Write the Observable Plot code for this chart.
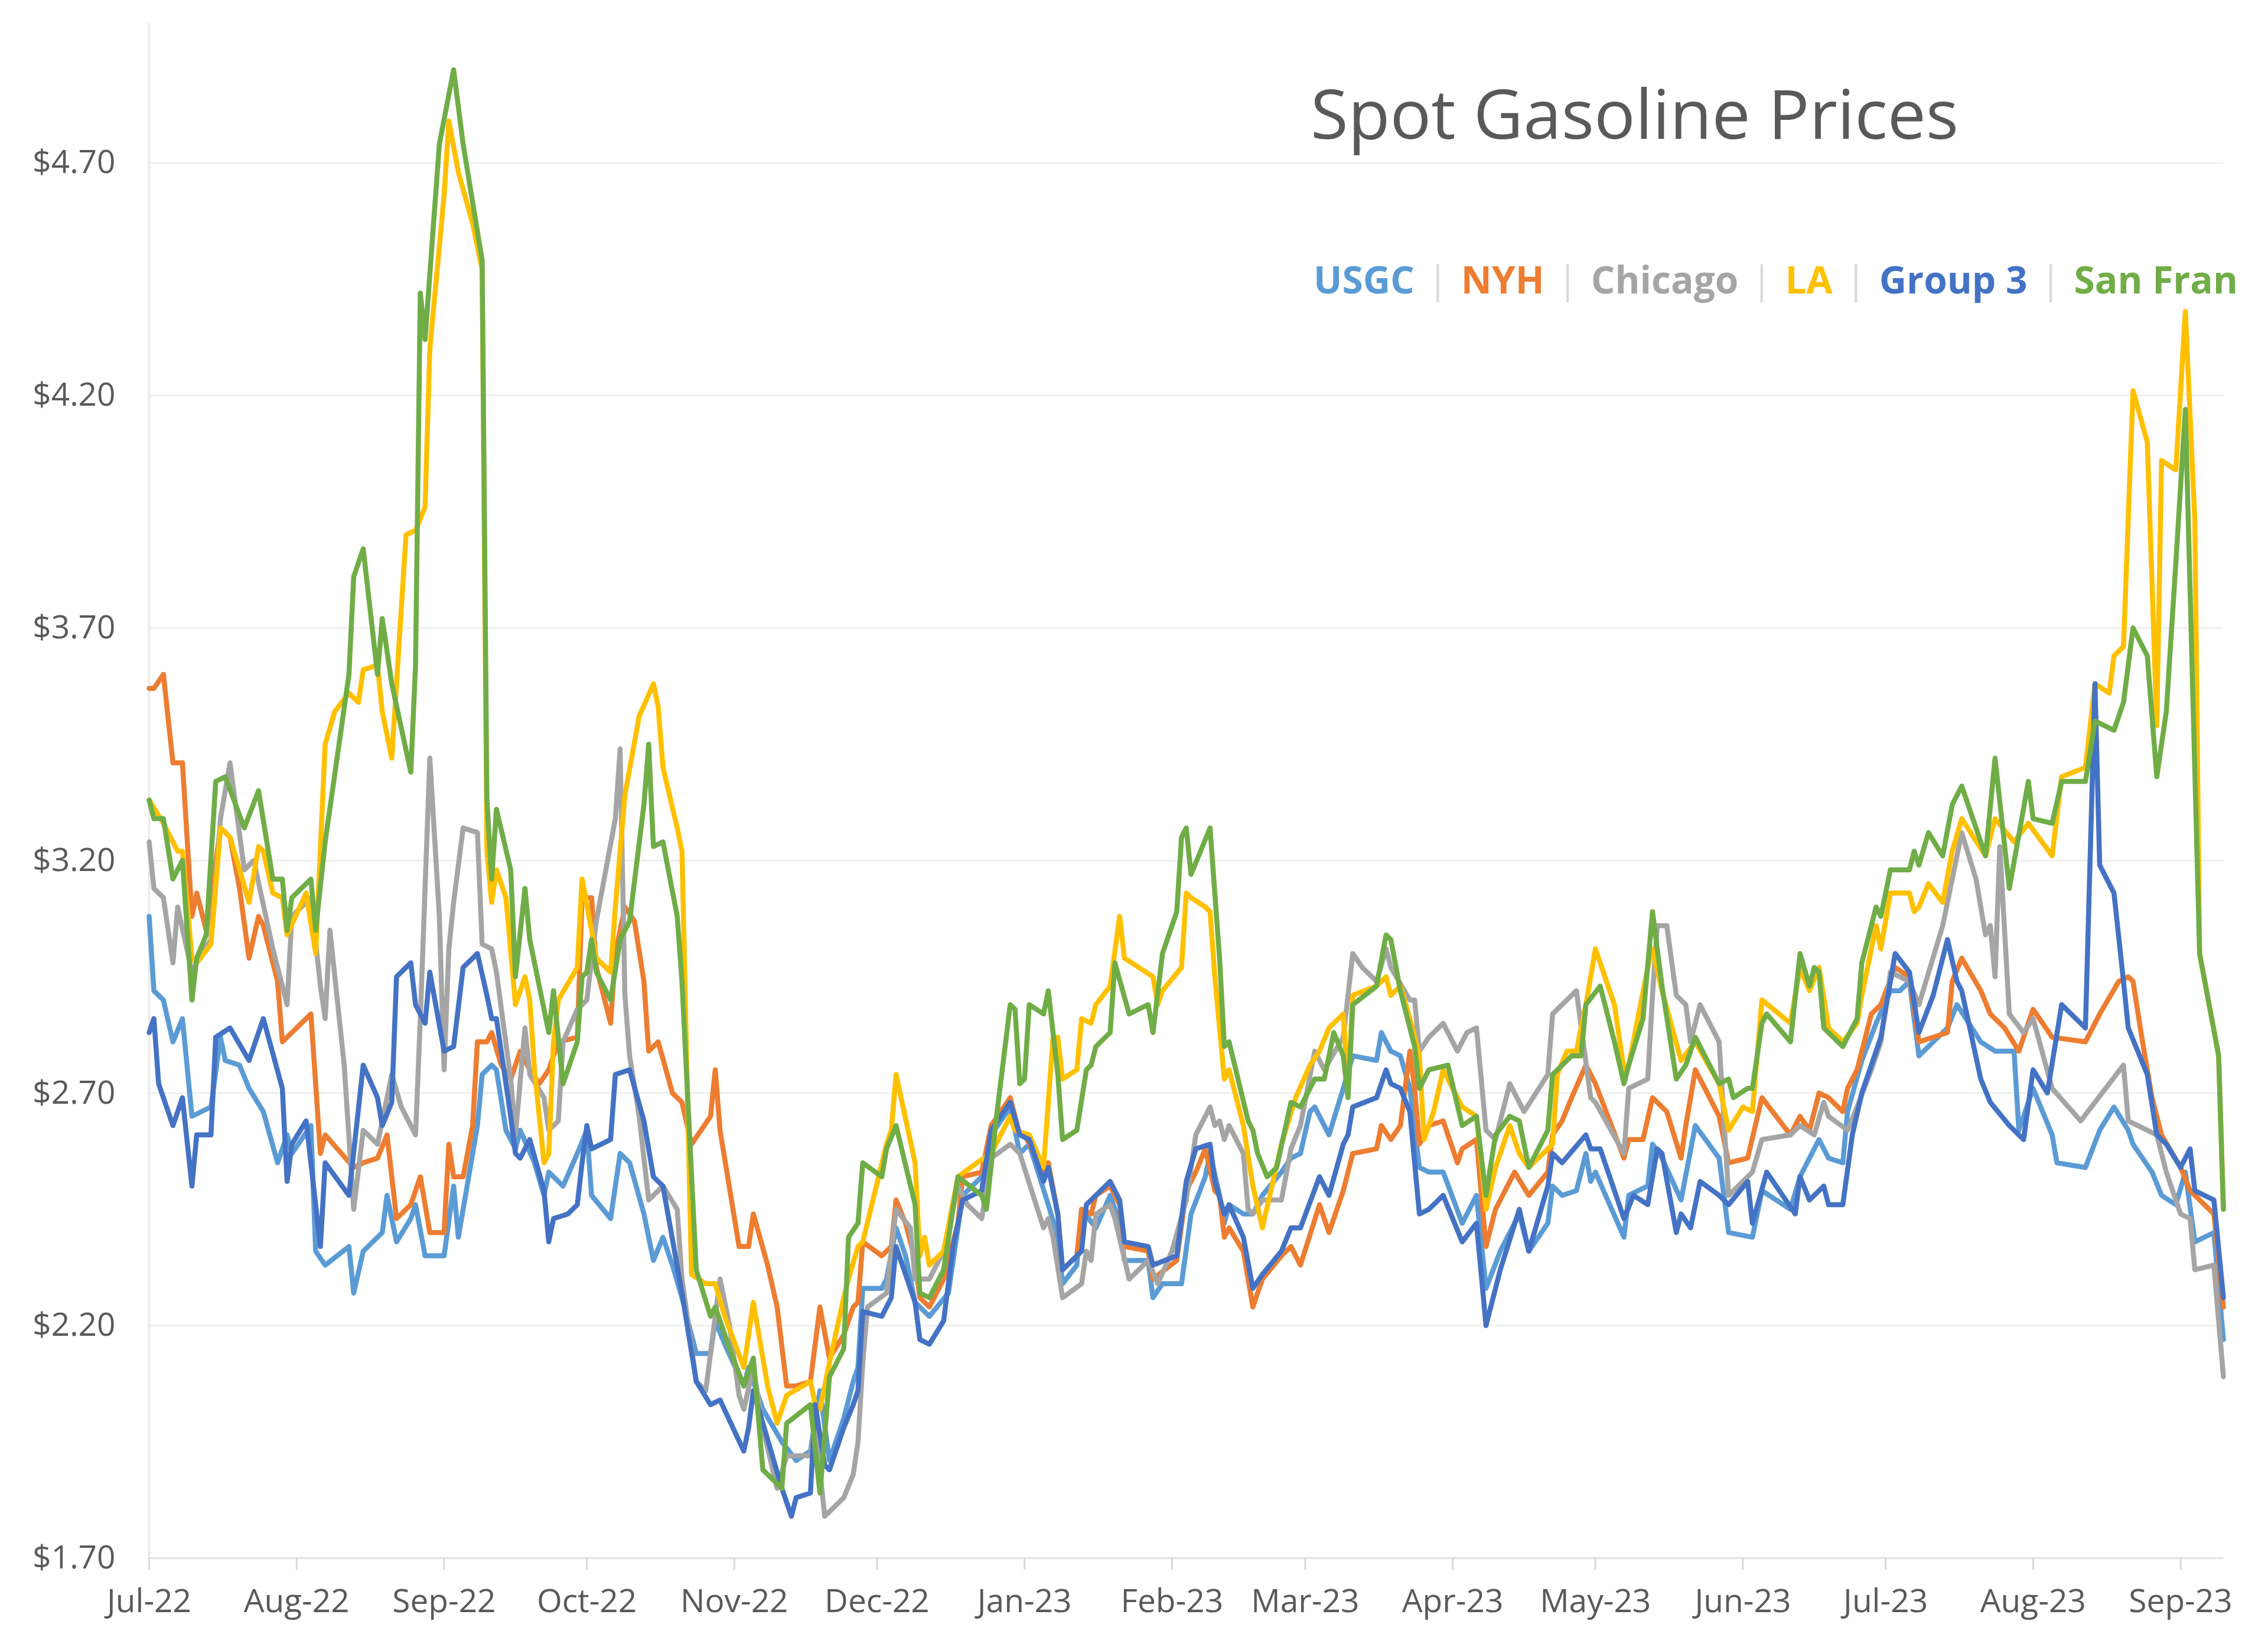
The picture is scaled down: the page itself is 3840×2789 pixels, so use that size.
<!DOCTYPE html>
<html>
<head>
<meta charset="utf-8">
<script src="https://cdn.jsdelivr.net/npm/d3@7"></script>
<script src="https://cdn.jsdelivr.net/npm/@observablehq/plot@0.6"></script>
<style>
html, body { margin: 0; padding: 0; background: #ffffff; }
#wrap { position: relative; width: 3840px; height: 2789px; font-family: "Open Sans", sans-serif; overflow: hidden; }
#title { position: absolute; left: 2219px; top: 111px; font-size: 116px; color: #595959; white-space: nowrap; line-height: normal; }
#legend { position: absolute; left: 2224px; top: 429px; font-size: 64px; font-weight: 700; white-space: nowrap; display: flex; line-height: normal; }
#legend .sep { color: #D9D9D9; font-weight: 400; width: 79px; text-align: center; }
</style>
</head>
<body>
<div id="wrap">
  <div id="chart"></div>
  <div id="title">Spot Gasoline Prices</div>
  <div id="legend"></div>
</div>
<script>
// ---- data: [day offset from 1 Jul 2022, $/gal] ----
const startDate = Date.UTC(2022, 6, 1);
const seriesNames = ["USGC", "NYH", "Chicago", "LA", "Group 3", "San Fran"];
const seriesColors = ["#5B9BD5", "#ED7D31", "#A5A5A5", "#FFC000", "#4472C4", "#70AD47"];
const yTickValues = [1.7, 2.2, 2.7, 3.2, 3.7, 4.2, 4.7];

const usgc = [[0,3.08],[1,2.92],[3,2.90],[5,2.81],[7,2.86],[9,2.65],[13,2.67],[15,2.82],[16,2.77],[19,2.76],[21,2.71],[24,2.66],[27,2.55],[29,2.61],[30,2.57],[34,2.63],[35,2.36],[37,2.33],[42,2.37],[43,2.27],[45,2.36],[49,2.40],[50,2.48],[52,2.38],[55,2.43],[56,2.46],[58,2.35],[62,2.35],[64,2.50],[65,2.39],[69,2.63],[70,2.74],[72,2.76],[73,2.75],[75,2.62],[77,2.58],[78,2.62],[81,2.55],[83,2.48],[84,2.53],[87,2.50],[90,2.57],[92,2.62],[93,2.48],[97,2.43],[99,2.57],[101,2.55],[104,2.44],[106,2.34],[108,2.39],[110,2.33],[112,2.26],[115,2.14],[118,2.14],[119,2.21],[121,2.16],[125,2.07],[126,2.11],[129,2.02],[133,1.95],[136,1.91],[139,1.93],[141,2.06],[143,1.91],[146,2.00],[148,2.08],[149,2.11],[150,2.28],[154,2.28],[155,2.30],[157,2.41],[159,2.35],[161,2.25],[164,2.22],[168,2.27],[171,2.48],[175,2.52],[177,2.61],[181,2.67],[183,2.57],[185,2.59],[189,2.46],[191,2.39],[192,2.29],[195,2.33],[196,2.45],[199,2.41],[202,2.48],[204,2.42],[205,2.34],[210,2.34],[211,2.26],[213,2.29],[217,2.29],[219,2.44],[222,2.52],[223,2.57],[225,2.48],[226,2.42],[227,2.46],[230,2.44],[232,2.44],[234,2.48],[238,2.53],[240,2.56],[242,2.57],[244,2.66],[245,2.67],[248,2.61],[251,2.71],[253,2.78],[258,2.77],[259,2.83],[261,2.79],[263,2.78],[265,2.71],[267,2.54],[269,2.53],[272,2.53],[276,2.42],[279,2.48],[281,2.28],[284,2.36],[288,2.44],[290,2.36],[294,2.42],[295,2.50],[297,2.48],[300,2.49],[302,2.57],[303,2.51],[304,2.53],[310,2.39],[311,2.48],[315,2.50],[316,2.59],[318,2.56],[322,2.47],[325,2.63],[330,2.56],[332,2.40],[337,2.39],[339,2.49],[345,2.45],[347,2.52],[351,2.60],[353,2.56],[356,2.55],[357,2.66],[360,2.77],[363,2.85],[366,2.92],[368,2.92],[370,2.94],[372,2.78],[378,2.84],[380,2.89],[385,2.81],[388,2.79],[392,2.79],[393,2.62],[396,2.71],[400,2.61],[401,2.55],[407,2.54],[410,2.62],[413,2.67],[416,2.62],[417,2.59],[421,2.53],[423,2.48],[426,2.46],[428,2.53],[430,2.38],[434,2.40],[436,2.17]];

const nyh = [[0,3.57],[1,3.57],[3,3.60],[5,3.41],[7,3.41],[9,3.08],[10,3.13],[12,3.05],[15,3.27],[17,3.25],[19,3.14],[21,2.99],[23,3.08],[24,3.06],[27,2.94],[28,2.81],[30,2.83],[34,2.87],[36,2.57],[37,2.61],[43,2.54],[45,2.55],[48,2.56],[50,2.61],[52,2.43],[55,2.46],[57,2.52],[59,2.40],[62,2.40],[63,2.59],[64,2.52],[66,2.52],[68,2.63],[69,2.81],[71,2.81],[72,2.83],[74,2.76],[76,2.73],[78,2.79],[80,2.75],[82,2.72],[84,2.75],[86,2.81],[90,2.82],[91,3.12],[93,3.12],[94,2.97],[97,2.85],[98,3.00],[100,3.10],[102,3.07],[104,2.94],[105,2.79],[107,2.81],[110,2.70],[112,2.68],[114,2.59],[118,2.65],[119,2.75],[120,2.62],[124,2.37],[126,2.37],[127,2.44],[130,2.33],[132,2.24],[134,2.07],[136,2.07],[139,2.08],[141,2.24],[143,2.13],[146,2.18],[148,2.24],[149,2.25],[150,2.38],[154,2.35],[156,2.37],[157,2.47],[159,2.42],[161,2.34],[162,2.26],[164,2.24],[167,2.30],[170,2.42],[171,2.52],[175,2.53],[177,2.63],[181,2.69],[183,2.61],[184,2.61],[188,2.53],[189,2.55],[191,2.44],[192,2.32],[195,2.35],[196,2.45],[198,2.44],[199,2.48],[202,2.50],[204,2.46],[205,2.37],[210,2.36],[211,2.30],[216,2.34],[218,2.49],[220,2.53],[222,2.58],[224,2.49],[225,2.48],[226,2.39],[227,2.41],[230,2.36],[232,2.24],[234,2.30],[238,2.35],[240,2.37],[242,2.33],[246,2.46],[248,2.40],[251,2.49],[253,2.57],[258,2.58],[259,2.63],[261,2.60],[263,2.63],[265,2.79],[266,2.71],[267,2.59],[269,2.63],[272,2.64],[275,2.55],[276,2.58],[279,2.60],[281,2.37],[283,2.45],[287,2.53],[290,2.48],[294,2.53],[295,2.61],[297,2.64],[299,2.69],[302,2.76],[304,2.72],[310,2.56],[311,2.60],[314,2.60],[316,2.69],[319,2.66],[322,2.56],[323,2.63],[325,2.75],[330,2.65],[332,2.55],[336,2.56],[339,2.69],[345,2.61],[347,2.65],[349,2.62],[351,2.70],[353,2.69],[356,2.66],[357,2.71],[359,2.75],[362,2.87],[364,2.89],[367,2.97],[370,2.95],[372,2.81],[378,2.83],[379,2.94],[381,2.99],[385,2.92],[387,2.87],[390,2.84],[393,2.79],[396,2.88],[400,2.82],[407,2.81],[410,2.87],[414,2.94],[416,2.95],[417,2.94],[419,2.81],[421,2.69],[423,2.61],[427,2.54],[429,2.49],[430,2.48],[434,2.44],[436,2.24]];

const chicago = [[0,3.24],[1,3.14],[3,3.12],[5,2.98],[6,3.10],[9,2.96],[10,2.98],[13,3.03],[15,3.29],[17,3.41],[20,3.18],[22,3.20],[26,3.01],[29,2.89],[30,3.08],[34,3.12],[36,2.93],[37,2.86],[38,3.05],[41,2.76],[43,2.45],[45,2.62],[48,2.59],[51,2.74],[53,2.67],[56,2.61],[57,2.86],[59,3.42],[61,3.08],[62,2.75],[63,3.01],[64,3.11],[66,3.27],[69,3.26],[70,3.02],[72,3.01],[73,2.96],[76,2.73],[77,2.61],[79,2.84],[80,2.74],[83,2.69],[84,2.62],[86,2.64],[87,2.81],[90,2.88],[92,2.90],[94,3.07],[98,3.29],[99,3.44],[100,2.91],[101,2.78],[103,2.65],[105,2.47],[108,2.50],[111,2.45],[112,2.30],[115,2.08],[117,2.06],[120,2.30],[122,2.20],[124,2.05],[125,2.02],[127,2.11],[129,1.98],[132,1.85],[134,1.92],[139,1.92],[140,1.99],[142,1.79],[146,1.83],[148,1.88],[149,1.95],[150,2.12],[151,2.24],[155,2.27],[157,2.45],[160,2.41],[161,2.30],[164,2.30],[167,2.36],[170,2.50],[172,2.46],[175,2.43],[177,2.56],[181,2.59],[183,2.57],[188,2.41],[189,2.43],[190,2.39],[192,2.26],[196,2.29],[197,2.36],[198,2.34],[199,2.44],[202,2.46],[203,2.43],[206,2.30],[210,2.34],[212,2.29],[215,2.36],[218,2.47],[220,2.61],[223,2.67],[224,2.63],[225,2.64],[226,2.60],[227,2.63],[230,2.57],[231,2.45],[232,2.44],[234,2.47],[238,2.47],[240,2.58],[242,2.63],[245,2.79],[247,2.75],[251,2.82],[253,3.00],[255,2.97],[258,2.94],[260,3.01],[261,2.97],[265,2.90],[266,2.90],[267,2.79],[269,2.82],[272,2.85],[275,2.79],[277,2.83],[279,2.84],[281,2.62],[283,2.60],[286,2.72],[289,2.66],[294,2.74],[295,2.87],[296,2.88],[299,2.91],[300,2.92],[303,2.69],[304,2.68],[310,2.57],[311,2.71],[315,2.73],[316,2.91],[317,3.06],[319,3.06],[321,2.91],[323,2.89],[324,2.81],[326,2.89],[330,2.81],[332,2.48],[337,2.53],[339,2.60],[345,2.61],[347,2.63],[350,2.61],[352,2.68],[353,2.65],[357,2.62],[359,2.67],[362,2.75],[364,2.81],[366,2.96],[370,2.94],[372,2.89],[377,3.06],[379,3.16],[381,3.26],[384,3.16],[386,3.04],[387,3.06],[388,2.95],[389,3.23],[391,2.87],[394,2.83],[396,2.86],[400,2.71],[406,2.64],[409,2.68],[415,2.76],[416,2.64],[422,2.61],[424,2.53],[427,2.44],[429,2.43],[430,2.32],[434,2.33],[436,2.09]];

const la = [[0,3.33],[3,3.28],[6,3.22],[7,3.22],[9,2.99],[10,2.98],[13,3.02],[15,3.27],[17,3.25],[21,3.11],[23,3.23],[24,3.22],[26,3.13],[28,3.12],[29,3.04],[33,3.13],[35,3.00],[37,3.45],[39,3.52],[42,3.56],[44,3.54],[45,3.61],[48,3.62],[49,3.52],[51,3.42],[52,3.58],[54,3.90],[56,3.91],[58,3.96],[59,4.30],[62,4.63],[63,4.79],[65,4.68],[68,4.57],[70,4.47],[71,3.22],[72,3.11],[73,3.18],[75,3.12],[77,2.89],[79,2.95],[80,2.90],[81,2.75],[83,2.55],[84,2.57],[85,2.81],[86,2.90],[90,2.97],[91,3.16],[93,3.05],[94,2.99],[97,2.96],[98,3.10],[100,3.34],[103,3.51],[106,3.58],[107,3.53],[108,3.40],[111,3.27],[112,3.22],[114,2.31],[117,2.29],[119,2.29],[121,2.22],[125,2.11],[127,2.25],[130,2.07],[132,1.99],[134,2.05],[139,2.08],[140,2.03],[141,2.02],[143,2.12],[146,2.26],[147,2.30],[149,2.37],[150,2.38],[155,2.59],[156,2.62],[157,2.74],[161,2.55],[162,2.35],[163,2.39],[164,2.33],[167,2.36],[170,2.52],[174,2.55],[177,2.57],[181,2.65],[182,2.62],[185,2.61],[188,2.54],[190,2.82],[191,2.82],[192,2.73],[195,2.75],[196,2.86],[198,2.85],[199,2.89],[202,2.93],[204,3.08],[205,2.99],[211,2.95],[212,2.89],[213,2.92],[217,2.97],[218,3.13],[219,3.12],[222,3.10],[223,3.09],[224,2.95],[226,2.73],[227,2.75],[230,2.63],[232,2.50],[234,2.41],[236,2.50],[238,2.59],[241,2.69],[244,2.76],[246,2.79],[248,2.84],[251,2.87],[252,2.71],[253,2.91],[258,2.93],[260,2.95],[261,2.91],[263,2.93],[265,2.86],[267,2.78],[268,2.60],[270,2.66],[272,2.75],[276,2.67],[279,2.65],[281,2.45],[283,2.54],[286,2.63],[288,2.57],[290,2.54],[292,2.56],[295,2.59],[296,2.74],[298,2.79],[300,2.79],[302,2.89],[304,3.01],[308,2.89],[310,2.75],[311,2.76],[315,2.97],[316,3.01],[318,2.92],[322,2.77],[325,2.81],[330,2.72],[332,2.62],[335,2.67],[337,2.66],[339,2.90],[345,2.85],[347,2.97],[349,2.92],[351,2.97],[353,2.84],[356,2.81],[359,2.85],[360,2.91],[363,3.06],[364,3.01],[366,3.13],[370,3.13],[371,3.09],[372,3.10],[374,3.15],[377,3.11],[379,3.22],[381,3.29],[386,3.21],[388,3.29],[392,3.24],[395,3.28],[400,3.21],[402,3.38],[407,3.40],[409,3.58],[412,3.56],[413,3.64],[415,3.66],[417,4.21],[420,4.10],[422,3.49],[423,4.06],[426,4.04],[428,4.38],[430,3.93],[431,3.00],[435,2.78],[436,2.45]];

const group3 = [[0,2.83],[1,2.86],[2,2.72],[5,2.63],[7,2.69],[9,2.50],[10,2.61],[13,2.61],[14,2.82],[17,2.84],[21,2.77],[24,2.86],[28,2.71],[29,2.51],[30,2.59],[33,2.64],[36,2.37],[37,2.55],[42,2.48],[45,2.76],[48,2.69],[49,2.63],[51,2.68],[52,2.95],[55,2.98],[56,2.89],[58,2.85],[59,2.96],[62,2.79],[64,2.80],[66,2.97],[69,3.00],[71,2.91],[72,2.86],[73,2.86],[76,2.65],[77,2.57],[78,2.56],[80,2.60],[83,2.49],[84,2.38],[85,2.43],[88,2.44],[90,2.46],[91,2.55],[92,2.63],[93,2.58],[97,2.60],[98,2.74],[101,2.75],[104,2.64],[106,2.52],[108,2.50],[112,2.27],[115,2.08],[118,2.03],[120,2.04],[125,1.93],[126,1.98],[127,2.06],[133,1.85],[135,1.79],[136,1.83],[139,1.84],[140,2.03],[142,1.90],[143,1.89],[146,1.98],[148,2.03],[149,2.06],[150,2.23],[154,2.22],[156,2.26],[157,2.37],[161,2.25],[162,2.17],[164,2.16],[167,2.21],[169,2.37],[171,2.47],[175,2.49],[177,2.62],[181,2.68],[183,2.61],[185,2.60],[188,2.51],[189,2.54],[191,2.44],[192,2.32],[196,2.36],[197,2.46],[199,2.48],[202,2.51],[204,2.47],[205,2.38],[210,2.37],[211,2.33],[216,2.35],[218,2.51],[220,2.58],[223,2.59],[224,2.51],[226,2.44],[227,2.46],[230,2.39],[232,2.28],[234,2.31],[238,2.36],[240,2.41],[242,2.41],[246,2.52],[248,2.48],[251,2.59],[252,2.61],[253,2.67],[258,2.69],[260,2.75],[261,2.72],[263,2.71],[265,2.66],[267,2.44],[269,2.45],[272,2.48],[276,2.38],[279,2.42],[281,2.20],[284,2.32],[288,2.45],[290,2.36],[294,2.50],[295,2.57],[297,2.55],[302,2.61],[303,2.58],[305,2.58],[310,2.43],[312,2.48],[315,2.46],[317,2.58],[318,2.57],[321,2.40],[322,2.44],[324,2.41],[326,2.51],[330,2.48],[332,2.46],[336,2.51],[337,2.42],[340,2.53],[346,2.44],[347,2.52],[349,2.47],[352,2.50],[353,2.46],[356,2.46],[358,2.61],[360,2.70],[364,2.82],[367,3.00],[370,2.96],[372,2.83],[375,2.91],[378,3.03],[380,2.94],[381,2.92],[385,2.73],[387,2.68],[391,2.63],[394,2.60],[396,2.75],[399,2.70],[402,2.89],[407,2.84],[409,3.58],[410,3.19],[413,3.13],[415,2.94],[416,2.84],[420,2.74],[422,2.61],[424,2.59],[427,2.54],[429,2.58],[430,2.49],[434,2.47],[436,2.26]];

const sanFran = [[0,3.33],[1,3.29],[3,3.29],[5,3.16],[7,3.20],[9,2.90],[10,2.99],[12,3.04],[14,3.37],[16,3.38],[20,3.27],[23,3.35],[26,3.16],[28,3.16],[29,3.05],[30,3.12],[34,3.16],[35,3.05],[37,3.24],[42,3.60],[43,3.81],[45,3.87],[48,3.60],[49,3.72],[51,3.58],[55,3.39],[56,3.62],[57,4.42],[58,4.32],[61,4.74],[64,4.90],[66,4.74],[70,4.49],[71,3.33],[72,3.16],[73,3.31],[76,3.18],[77,2.95],[79,3.14],[80,3.03],[84,2.83],[85,2.92],[87,2.72],[90,2.81],[91,2.95],[92,2.96],[93,3.03],[94,2.96],[97,2.90],[99,3.03],[101,3.07],[104,3.32],[105,3.45],[106,3.23],[108,3.24],[111,3.08],[112,2.94],[115,2.32],[118,2.22],[119,2.24],[122,2.15],[125,2.07],[127,2.13],[129,1.89],[133,1.85],[134,1.99],[139,2.03],[141,1.84],[143,2.09],[146,2.15],[147,2.39],[149,2.42],[150,2.55],[154,2.52],[155,2.58],[157,2.63],[161,2.46],[162,2.27],[164,2.26],[167,2.32],[170,2.52],[175,2.48],[176,2.45],[178,2.64],[181,2.89],[182,2.88],[183,2.72],[184,2.73],[185,2.89],[188,2.87],[189,2.92],[191,2.74],[192,2.60],[195,2.62],[197,2.75],[198,2.76],[199,2.80],[202,2.83],[203,2.98],[206,2.87],[210,2.89],[211,2.83],[213,3.00],[216,3.09],[217,3.25],[218,3.27],[219,3.17],[223,3.27],[225,2.99],[226,2.80],[227,2.81],[231,2.64],[232,2.62],[233,2.57],[235,2.52],[237,2.54],[240,2.68],[242,2.67],[245,2.73],[247,2.73],[249,2.83],[251,2.78],[252,2.69],[253,2.89],[258,2.93],[260,3.04],[261,3.03],[263,2.92],[266,2.80],[267,2.71],[269,2.75],[273,2.76],[276,2.63],[279,2.65],[281,2.48],[283,2.61],[286,2.65],[288,2.64],[290,2.54],[294,2.62],[295,2.74],[299,2.78],[301,2.78],[302,2.89],[305,2.93],[308,2.81],[310,2.72],[311,2.76],[314,2.86],[316,3.09],[318,2.93],[321,2.73],[323,2.76],[325,2.82],[330,2.72],[332,2.73],[333,2.69],[336,2.71],[337,2.71],[339,2.85],[340,2.87],[345,2.81],[347,3.00],[349,2.93],[350,2.97],[351,2.96],[352,2.84],[356,2.80],[359,2.86],[360,2.98],[363,3.10],[364,3.08],[366,3.18],[370,3.18],[371,3.22],[372,3.19],[374,3.26],[377,3.21],[379,3.32],[381,3.36],[386,3.21],[388,3.42],[391,3.14],[395,3.37],[396,3.29],[400,3.28],[402,3.37],[407,3.37],[409,3.50],[413,3.48],[415,3.54],[417,3.70],[420,3.64],[422,3.38],[424,3.52],[426,3.84],[428,4.17],[431,3.00],[435,2.78],[436,2.45]];

const seriesData = [usgc, nyh, chicago, la, group3, sanFran];

// ---- build table ----
const DAY = 86400000;
const rows = [];
seriesData.forEach((pts, i) => {
  for (const [d, v] of pts) rows.push({series: seriesNames[i], date: new Date(startDate + d * DAY), price: v});
});
const lastDay = d3.max(seriesData.flat(), d => d[0]);
const xStart = new Date(startDate);
const xEnd = new Date(startDate + lastDay * DAY);
const xTickValues = d3.utcMonth.range(xStart, new Date(xEnd.getTime() + DAY));

const chart = Plot.plot({
  width: 3840,
  height: 2789,
  marginLeft: 252,
  marginRight: 76,
  marginTop: 39,
  marginBottom: 151,
  style: {fontFamily: "'Open Sans', sans-serif", background: "#ffffff", overflow: "visible"},
  x: {type: "utc", domain: [xStart, xEnd], label: null},
  y: {domain: [1.7, 5.0], label: null},
  color: {domain: seriesNames, range: seriesColors},
  marks: [
    Plot.gridY({ticks: yTickValues, stroke: "#EFEFEF", strokeOpacity: 1, strokeWidth: 3}),
    Plot.ruleX([xStart], {stroke: "#EBEBEB", strokeWidth: 4}),
    Plot.ruleY([1.7], {stroke: "#E2E2E2", strokeWidth: 3}),
    Plot.axisY({ticks: yTickValues, tickFormat: d => "$" + d.toFixed(2), tickSize: 0, tickPadding: 57, fontSize: 55, fill: "#595959", label: null}),
    Plot.axisX({ticks: xTickValues, tickFormat: d3.utcFormat("%b-%y"), tickSize: 20, tickPadding: 32, stroke: "#D9D9D9", strokeWidth: 3, fontSize: 55, fill: "#595959", label: null}),
    Plot.line(rows, {x: "date", y: "price", z: "series", stroke: "series", strokeWidth: 8.5, strokeLinejoin: "round", strokeLinecap: "round"})
  ]
});
document.getElementById("chart").appendChild(chart);

// ---- legend (text row, coloured names separated by light bars) ----
const legend = document.getElementById("legend");
seriesNames.forEach((name, i) => {
  if (i > 0) {
    const s = document.createElement("span");
    s.className = "sep";
    s.textContent = "|";
    legend.appendChild(s);
  }
  const t = document.createElement("span");
  t.textContent = name;
  t.style.color = seriesColors[i];
  legend.appendChild(t);
});
</script>
</body>
</html>
